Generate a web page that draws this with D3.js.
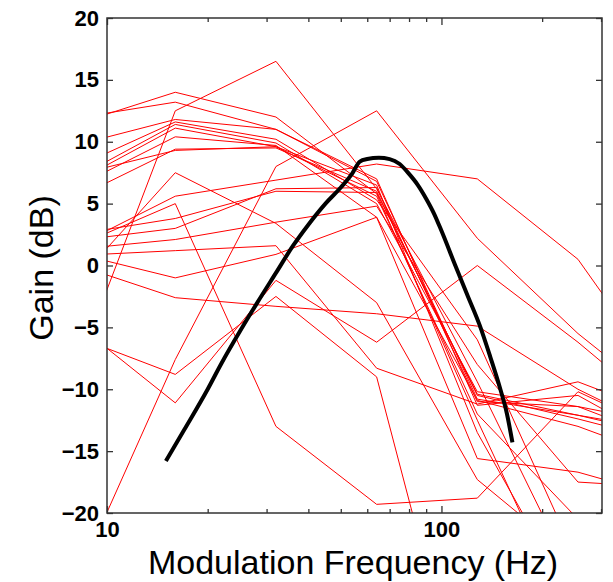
<!DOCTYPE html>
<html><head><meta charset="utf-8">
<script src="https://cdn.jsdelivr.net/npm/d3@7"></script>
<style>body{margin:0;background:#fff}svg{display:block}</style></head>
<body><svg id="c" width="613" height="582"></svg>
<script>
// ---- data ----
const freqs = [8, 16, 32, 64, 128, 256, 512];
const red01 = [11.4, 14.0, 12.0, 5.8, -12.5, -30, -40];
const red02 = [11.9, 13.2, 11.0, 6.8, -10.8, -12.1, -13.5];
const red03 = [-8.8, 12.5, 16.5, 6.2, -9.4, -26, -40];
const red04 = [9.7, 11.8, 11.0, 7.0, -11.3, -10.5, -15];
const red05 = [7.9, 11.6, 10.2, 5.3, -6.0, -24, -40];
const red06 = [7.0, 11.4, 9.9, 5.0, -10.2, -11.4, -14.5];
const red07 = [6.7, 11.1, 9.6, 6.5, -13.5, -28, -40];
const red08 = [6.3, 10.4, 9.7, 3.9, -15.6, -16.7, -19];
const red09 = [5.4, 9.4, 9.5, 6.0, -10.5, -12.4, -14.5];
const red10 = [1.5, 5.6, 6.9, 8.2, 7.0, 0.5, -11];
const red11 = [-1.5, 7.5, 3.4, -3.0, -17.3, -24, -28];
const red12 = [1.5, 5.0, -13.0, -19.3, -18.8, -10.2, -14];
const red13 = [1.0, -1.0, 0.9, 3.9, -10.9, -13.0, -16];
const red14 = [0.1, -2.6, -3.3, -3.9, -4.9, -10.0, -14];
const red15 = [-5.7, -8.8, -2.5, -9.0, -40, -60, -60];
const red16 = [-4.6, -11.1, -1.2, -6.2, 0.0, -6.2, -13];
const red17 = [-25.8, -7.6, 8.0, 12.5, 2.2, -5.5, -12];
const red18 = [2.0, 3.0, 6.2, 6.3, -11.0, -11.4, -13];
const red19 = [1.3, 2.1, 3.5, 4.8, -8.0, -17.5, -18];
const red20 = [0.8, 1.2, 1.6, -8.3, -11.2, -9.4, -12.5];
const red21 = [7.3, 9.3, 9.6, 5.6, -12.0, -20.5, -25];
const red22 = [2.5, 3.8, 6.0, 5.9, -10.4, -12.1, -14];
const redSeries = [red01, red02, red03, red04, red05, red06, red07, red08, red09, red10, red11,
  red12, red13, red14, red15, red16, red17, red18, red19, red20, red21, red22];

const meanFreqs = [15, 17, 20, 22, 25, 28, 32, 36, 40, 45, 50, 54, 57, 60, 65, 70, 75, 80, 85, 90, 95, 100, 110, 120, 130, 140, 150, 157, 163];
const meanGain  = [-15.8, -13.3, -10.0, -7.9, -5.3, -3.1, -0.6, 1.6, 3.3, 5.0, 6.3, 7.4, 8.4, 8.6, 8.7, 8.6, 8.2, 7.4, 6.5, 5.4, 4.2, 2.8, 0.0, -2.5, -4.8, -7.4, -10.0, -12.0, -14.3];

const xMajorTicks = [10, 100];
const xMinorTicks = [20, 30, 40, 50, 60, 70, 80, 90, 200, 300];
const yTicks = [-20, -15, -10, -5, 0, 5, 10, 15, 20];
const xLabel = "Modulation Frequency (Hz)";
const yLabel = "Gain (dB)";

// ---- layout ----
const L = 107, R = 602, T = 18, B = 513;
const svg = d3.select("#c");
const x = d3.scaleLog().domain([10, 302]).range([L, R]);
const y = d3.scaleLinear().domain([-20, 20]).range([B, T]);

svg.append("defs").append("clipPath").attr("id", "clip")
  .append("rect").attr("x", L).attr("y", T).attr("width", R - L).attr("height", B - T);

const plot = svg.append("g").attr("clip-path", "url(#clip)");
const line = d3.line().x(d => x(d[0])).y(d => y(d[1]));

redSeries.forEach(s => {
  plot.append("path").datum(freqs.map((f, i) => [f, s[i]]))
    .attr("d", line).attr("fill", "none").attr("stroke", "#ff0000").attr("stroke-width", 1);
});
plot.append("path").datum(meanFreqs.map((f, i) => [f, meanGain[i]]))
  .attr("d", line.curve(d3.curveMonotoneX)).attr("fill", "none").attr("stroke", "#000")
  .attr("stroke-width", 4).attr("stroke-linejoin", "round");

// ---- axes ----
const axCol = "#333";
const FONT = "Liberation Sans, Arial, sans-serif";
function style(g) {
  g.attr("font-size", 22).attr("font-family", FONT);
  g.select(".domain").remove();
  g.selectAll(".tick line").attr("stroke", axCol).attr("stroke-width", 1.3);
  g.selectAll("text").attr("font-family", FONT)
    .attr("font-weight", "bold").attr("font-size", 22).attr("fill", "#000");
}
svg.append("g").attr("transform", `translate(${L},0)`)
  .call(d3.axisLeft(y).tickValues(yTicks).tickSize(-6).tickPadding(8).tickFormat(d => d < 0 ? "\u2212" + Math.abs(d) : d))
  .call(style);
svg.append("g").attr("transform", `translate(${R},0)`)
  .call(d3.axisRight(y).tickValues(yTicks).tickSize(-6).tickFormat(""))
  .call(style);
svg.append("g").attr("transform", `translate(0,${B})`)
  .call(d3.axisBottom(x).tickValues(xMajorTicks).tickSize(-7).tickPadding(8).tickFormat(d3.format("d")))
  .call(style);
svg.append("g").attr("transform", `translate(0,${B})`)
  .call(d3.axisBottom(x).tickValues(xMinorTicks).tickSize(-4).tickFormat(""))
  .call(style);
svg.append("g").attr("transform", `translate(0,${T})`)
  .call(d3.axisTop(x).tickValues(xMajorTicks).tickSize(-7).tickFormat(""))
  .call(style);
svg.append("g").attr("transform", `translate(0,${T})`)
  .call(d3.axisTop(x).tickValues(xMinorTicks).tickSize(-4).tickFormat(""))
  .call(style);

svg.append("rect").attr("x", L).attr("y", T).attr("width", R - L).attr("height", B - T)
  .attr("fill", "none").attr("stroke", axCol).attr("stroke-width", 1.5);

svg.append("text").attr("x", 353).attr("y", 574).attr("text-anchor", "middle")
  .attr("font-family", FONT).attr("font-size", 34).text(xLabel);
svg.append("text").attr("transform", `translate(53,268) rotate(-90)`).attr("text-anchor", "middle")
  .attr("font-family", FONT).attr("font-size", 34).text(yLabel);
</script></body></html>
